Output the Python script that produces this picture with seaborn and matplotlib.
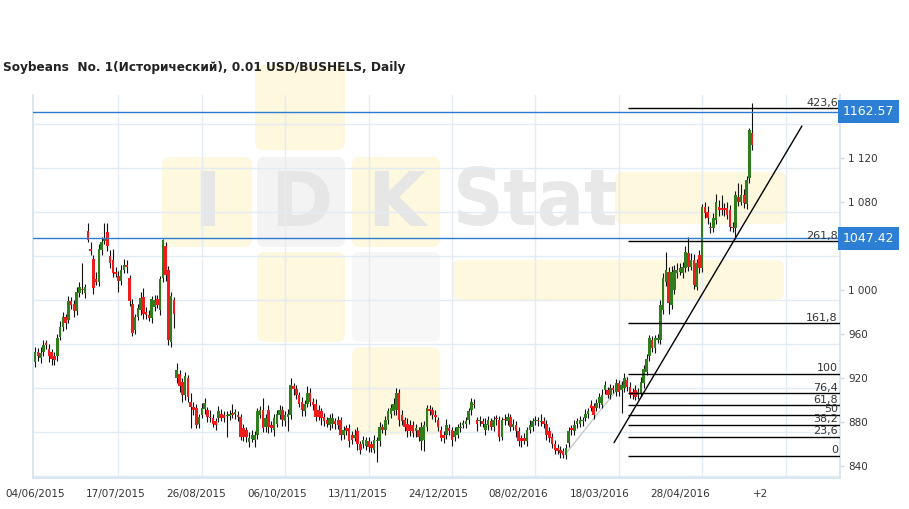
import matplotlib
matplotlib.use("Agg")
import matplotlib.pyplot as plt
import matplotlib.transforms as mtransforms
from matplotlib.patches import FancyBboxPatch
import numpy as np
import seaborn as sns

# daily candles (index = trading day from 04/06/2015)
opens = [935, 944, 939, 944, 952, 947, 944, 940, 940, 958,
         967, 976, 973, 990, 988, 981, 998, 1001, 998, 1054,
         1038, 1029, 1010, 1008, 1037, 1045, 1053, 1031, 1028, 1017,
         1013, 1009, 1019, 1023, 1011, 988, 964, 976, 982, 994,
         980, 978, 975, 985, 992, 982, 1011, 1040, 1019, 953,
         991, 920, 924, 917, 905, 920, 899, 894, 893, 879,
         887, 892, 891, 885, 884, 881, 884, 888, 887, 886,
         886, 889, 888, 887, 885, 875, 873, 862, 865, 864,
         869, 887, 891, 876, 891, 878, 873, 879, 887, 891,
         881, 885, 887, 913, 910, 905, 899, 890, 897, 907,
         899, 897, 891, 890, 885, 882, 878, 879, 881, 882,
         882, 869, 875, 875, 869, 866, 872, 860, 860, 859,
         863, 860, 855, 863, 863, 876, 873, 882, 888, 890,
         891, 907, 887, 882, 879, 878, 878, 872, 873, 863,
         864, 876, 892, 891, 887, 882, 873, 869, 869, 875,
         873, 867, 869, 875, 878, 879, 882, 891, 897, 882,
         881, 881, 873, 878, 881, 876, 884, 882, 867, 883,
         881, 885, 876, 878, 872, 866, 866, 863, 873, 876,
         881, 882, 880, 881, 879, 872, 867, 860, 857, 855,
         854, 850.5, 861, 875, 872, 879, 879, 881, 884, 888,
         896, 895, 893, 897.5, 896, 909.6, 909.6, 905, 911, 908,
         916, 909.6, 911, 918.7, 912.6, 908, 909.6, 905, 906.6, 915.6,
         926, 940, 955, 947.5, 955, 955, 982, 1008, 1017, 987,
         1000, 1015.6, 1017, 1015.6, 1020, 1034, 1021.7, 1027.8, 1003.5, 1032,
         1020, 1076, 1071.7, 1058, 1056.5, 1064, 1076, 1074.7, 1074.7, 1074.7,
         1073, 1058, 1056.5, 1085, 1080.8, 1086.8, 1079, 1102, 1143]
closes = [944, 940, 943, 950, 950, 940, 938, 937, 957, 967,
          976, 970, 990, 987, 981, 999, 1003, 1000, 1003, 1046,
          1036, 1002, 1008, 1038, 1044, 1047, 1040, 1025, 1016, 1015,
          1009, 1019, 1023, 1021, 990, 961, 976, 984, 993, 979,
          978, 975, 992, 991, 987, 1010, 1046, 1014, 955, 995,
          979, 928, 913, 905, 922, 903, 894, 891, 878, 885,
          893, 898, 885, 884, 879, 878, 890, 884, 884, 886.5,
          888, 887, 888.5, 885, 867, 867, 867, 866, 869, 869,
          890, 891, 875, 884, 876, 875, 884, 888, 891, 882,
          887, 888, 914, 910, 905, 897, 891, 897, 907, 899,
          896, 885, 885, 884, 881, 879, 884, 884, 879, 878,
          869, 873, 872, 863, 864, 869, 860, 855, 864, 864,
          858, 857, 864, 864, 876, 873, 882, 890, 893, 897,
          907, 882, 881, 876, 872, 872, 870, 875, 867, 876,
          878, 893, 890, 887, 885, 876, 866, 866, 878, 872,
          864, 872, 876, 876, 879, 881, 890, 899, 896, 879,
          882, 879, 879, 882, 876, 882, 883, 867, 882, 882,
          885, 876, 879, 872, 863, 863, 863, 873, 878, 881,
          882, 881, 881, 879, 869, 866, 860, 855, 854, 852,
          850.5, 857, 872, 873, 878, 881, 882, 882, 888, 890,
          893, 887, 897.5, 903.5, 905, 914, 905, 911, 909.6, 915.6,
          908, 914, 920, 912.6, 905, 905, 903.5, 908, 917, 929,
          938, 956.6, 947.5, 956.6, 956.6, 987, 1011, 1018.7, 988.4, 1017,
          1018.7, 1018.7, 1020, 1021.7, 1035, 1021.7, 1027.8, 1005, 1024.7, 1020,
          1076, 1070, 1065.6, 1056.5, 1065.6, 1080.8, 1073, 1073, 1073, 1068.7,
          1058, 1056.5, 1086.8, 1080.8, 1086.8, 1079.3, 1100.5, 1146, 1132]
# wick length above / below the body
up_wick = [5, 4, 6, 5, 3, 4, 3, 4, 3, 5,
           4, 3, 5, 4, 3, 4, 5, 24, 3, 7,
           6, 3, 7, 4, 5, 14, 8, 6, 10, 4,
           5, 4, 6, 5, 3, 4, 3, 4, 6, 8,
           5, 4, 3, 5, 4, 3, 1, 4, 3, 4,
           3, 6, 4, 3, 4, 3, 8, 5, 4, 3,
           5, 4, 3, 6, 4, 3, 5, 4, 3, 4,
           3, 8, 4, 3, 3, 4, 3, 5, 4, 3,
           3, 4, 11, 4, 5, 3, 4, 3, 5, 4,
           3, 4, 6, 3, 4, 3, 4, 3, 6, 4,
           3, 4, 5, 3, 4, 3, 4, 5, 3, 4,
           3, 4, 3, 4, 3, 5, 4, 3, 4, 3,
           4, 3, 5, 3, 4, 3, 4, 3, 4, 5,
           4, 3, 4, 3, 5, 4, 3, 4, 3, 4,
           3, 3, 4, 3, 4, 3, 4, 3, 5, 4,
           3, 4, 3, 4, 3, 4, 3, 3, 4, 3,
           4, 3, 5, 4, 3, 4, 3, 4, 3, 5,
           4, 3, 4, 3, 4, 3, 4, 3, 4, 3,
           4, 3, 7, 4, 3, 4, 3, 4, 3, 4,
           3, 3, 4, 3, 4, 3, 4, 3, 4, 3,
           4, 3, 4, 3, 5, 4, 3, 4, 3, 4,
           3, 4, 5, 3, 4, 3, 4, 3, 4, 3,
           4, 3, 4, 3, 4, 4, 5, 16, 4, 5,
           4, 6, 5, 4, 5, 15, 6, 5, 4, 5,
           3, 4, 5, 4, 5, 7, 6, 12, 5, 6,
           5, 4, 4, 13, 10, 5, 4, 2, 27]
down_wick = [5, 4, 5, 4, 3, 5, 6, 5, 4, 3,
             4, 5, 3, 4, 5, 3, 4, 3, 5, 2,
             4, 5, 3, 4, 5, 3, 4, 5, 4, 3,
             10, 4, 3, 5, 4, 2, 4, 3, 4, 5,
             4, 3, 5, 4, 3, 4, 3, 5, 5, 4,
             13, 4, 5, 6, 5, 4, 19, 4, 3, 4,
             3, 4, 5, 4, 3, 5, 4, 3, 4, 19,
             4, 3, 5, 4, 3, 4, 5, 4, 3, 6,
             4, 3, 4, 5, 6, 4, 5, 3, 4, 5,
             4, 13, 4, 5, 4, 3, 5, 4, 3, 4,
             5, 4, 3, 6, 4, 3, 5, 4, 5, 4,
             5, 4, 3, 5, 4, 3, 5, 4, 3, 4,
             5, 4, 3, 19, 4, 3, 4, 3, 4, 3,
             4, 5, 3, 4, 5, 4, 3, 5, 4, 8,
             10, 4, 3, 4, 5, 4, 3, 5, 4, 3,
             5, 4, 3, 4, 3, 4, 3, 4, 3, 7,
             4, 3, 4, 5, 3, 4, 5, 4, 3, 4,
             3, 4, 3, 5, 4, 5, 3, 4, 3, 4,
             3, 4, 3, 4, 5, 4, 3, 4, 3, 4,
             3, 4, 3, 4, 3, 4, 3, 4, 3, 4,
             3, 4, 3, 4, 3, 4, 3, 4, 3, 4,
             4, 21, 3, 4, 3, 4, 3, 4, 3, 4,
             3, 4, 3, 4, 3, 4, 3, 4, 10, 4,
             3, 4, 3, 4, 3, 4, 3, 4, 3, 4,
             3, 4, 5, 4, 3, 4, 5, 4, 5, 4,
             4, 3, 10, 4, 3, 4, 5, 4, 4]

x_labels = ["04/06/2015", "17/07/2015", "26/08/2015", "06/10/2015", "13/11/2015",
            "24/12/2015", "08/02/2016", "18/03/2016", "28/04/2016", "+2"]
y_ticks = [840, 880, 920, 960, 1000, 1040, 1080, 1120, 1160]
# 1 040 and 1 160 sit under the price boxes in the source
hidden_ticks = [1040, 1160]

price_lines = [1162.57, 1047.42]
fib_low, fib_high = 849.5, 924.1
fib_ratios = [0, 23.6, 38.2, 50, 61.8, 76.4, 100, 161.8, 261.8, 423.6]
fib_labels = ["0", "23,6", "38,2", "50", "61,8", "76,4", "100", "161,8", "261,8", "423,6"]
trend_x = [208.3, 275.9]
trend_y = [861.6, 1149.5]
aux_x = [190.6, 213.0]
aux_y = [850.5, 921.4]

sns.set_theme(style="white")
plt.rcParams["font.family"] = ["DejaVu Sans"]

W, H = 909, 509
fig = plt.figure(figsize=(W / 100, H / 100), dpi=100)
fig.patch.set_facecolor("white")

# faint IDKStat watermark, drawn in pixel space behind the chart
bg = fig.add_axes([0, 0, 1, 1], zorder=0)
bg.set_xlim(0, W)
bg.set_ylim(H, 0)
bg.axis("off")
yel, gry = "#fdf8de", "#f3f3f3"
boxes = [(255, 65, 90, 85, yel), (162, 157, 90, 90, yel), (257, 157, 88, 90, gry),
         (352, 157, 88, 90, yel), (615, 172, 172, 52, yel), (257, 252, 88, 90, yel),
         (352, 252, 88, 90, "#f7f7f7"), (452, 260, 332, 40, yel), (352, 347, 88, 88, yel)]
for bx, by, bw, bh, col in boxes:
    bg.add_patch(FancyBboxPatch((bx + 8, by + 8), bw - 16, bh - 16,
                                boxstyle="round,pad=8", fc=col, ec="none"))
for lx, letter in [(207, "I"), (301, "D"), (396, "K")]:
    bg.text(lx, 205, letter, fontsize=54, fontweight="bold", color="#e6e6e6",
            ha="center", va="center")
bg.text(535, 203, "Stat", fontsize=56, fontweight="bold", color="#e8e8e8",
        ha="center", va="center", fontstretch="condensed")

ax = fig.add_axes([33 / W, 1 - 478 / H, 807 / W, 383 / H], zorder=1)
ax.set_facecolor("none")

idx = np.arange(len(closes))
o = np.array(opens, float)
c = np.array(closes, float)
top = np.maximum(o, c)
bot = np.minimum(o, c)
hi = top + np.array(up_wick)
lo = bot - np.array(down_wick)
cols = np.where(c > o, "#2f7d1c", np.where(c < o, "#ee1c1c", "#8c8c8c"))

ax.vlines(idx, lo, hi, color="#111111", lw=0.8, zorder=2)
ax.bar(idx, np.maximum(top - bot, 1.2), bottom=bot, width=0.92, color=cols,
       linewidth=0, zorder=3)

# price lines
for p in price_lines:
    ax.axhline(p, color="#2b7bd0", lw=1, zorder=4)

# fibonacci levels
fib_vals = [fib_low + (fib_high - fib_low) * r / 100 for r in fib_ratios]
ax.hlines(fib_vals, 213.3, 289.6, color="black", lw=1, zorder=4)
for v, lab in zip(fib_vals, fib_labels):
    ax.text(288.8, v + 0.6, lab, ha="right", va="bottom", fontsize=8, color="#333333",
            zorder=5)

sns.lineplot(x=trend_x, y=trend_y, ax=ax, color="black", lw=1, zorder=4)
sns.lineplot(x=aux_x, y=aux_y, ax=ax, color="#c8c8c8", lw=1, zorder=1)

ax.set_xlim(-0.72, 289.6)
ax.set_ylim(829.5, 1177.7)

# labels and grid (grid sits a little off the labels, as in the source chart)
ax.set_xticks(np.arange(0, 29 * len(x_labels), 29))
ax.set_xticklabels(x_labels)
ax.set_xticks(np.arange(0, 280, 30), minor=True)
ax.yaxis.tick_right()
ax.set_yticks(y_ticks)
ax.set_yticklabels(["" if v in hidden_ticks else f"{v:,}".replace(",", " ") for v in y_ticks])
ax.set_yticks([v - 8.6 for v in y_ticks], minor=True)
ax.grid(which="minor", color="#e3ecf5", lw=1)
ax.grid(which="major", visible=False)
ax.tick_params(axis="x", which="major", length=0, pad=8, labelsize=7.5, colors="#333333")
ax.tick_params(axis="x", which="minor", length=0)
ax.tick_params(axis="y", which="major", length=3, width=1, color="#c9d9ea", pad=3,
               labelsize=7.5, labelcolor="#333333", right=True, left=False)
ax.tick_params(axis="y", which="minor", length=0)
ax.spines["top"].set_visible(False)
for side in ["left", "bottom", "right"]:
    ax.spines[side].set_color("#d3e2f0")
    ax.spines[side].set_linewidth(1.2)

# current price boxes
trans = mtransforms.blended_transform_factory(ax.transAxes, ax.transData)
for p in price_lines:
    ax.text(1.0035, p, f"{p:.2f}", transform=trans, ha="left", va="center",
            fontsize=9, color="white", zorder=6,
            bbox=dict(boxstyle="square,pad=0.38", fc="#2d7fd5", ec="none"))

fig.text(3 / W, 1 - 68 / H, "Soybeans  No. 1(Исторический), 0.01 USD/BUSHELS, Daily",
         fontsize=8.7, fontweight="bold", color="#222222", ha="left", va="center")

fig.savefig("out.png", dpi=100)
